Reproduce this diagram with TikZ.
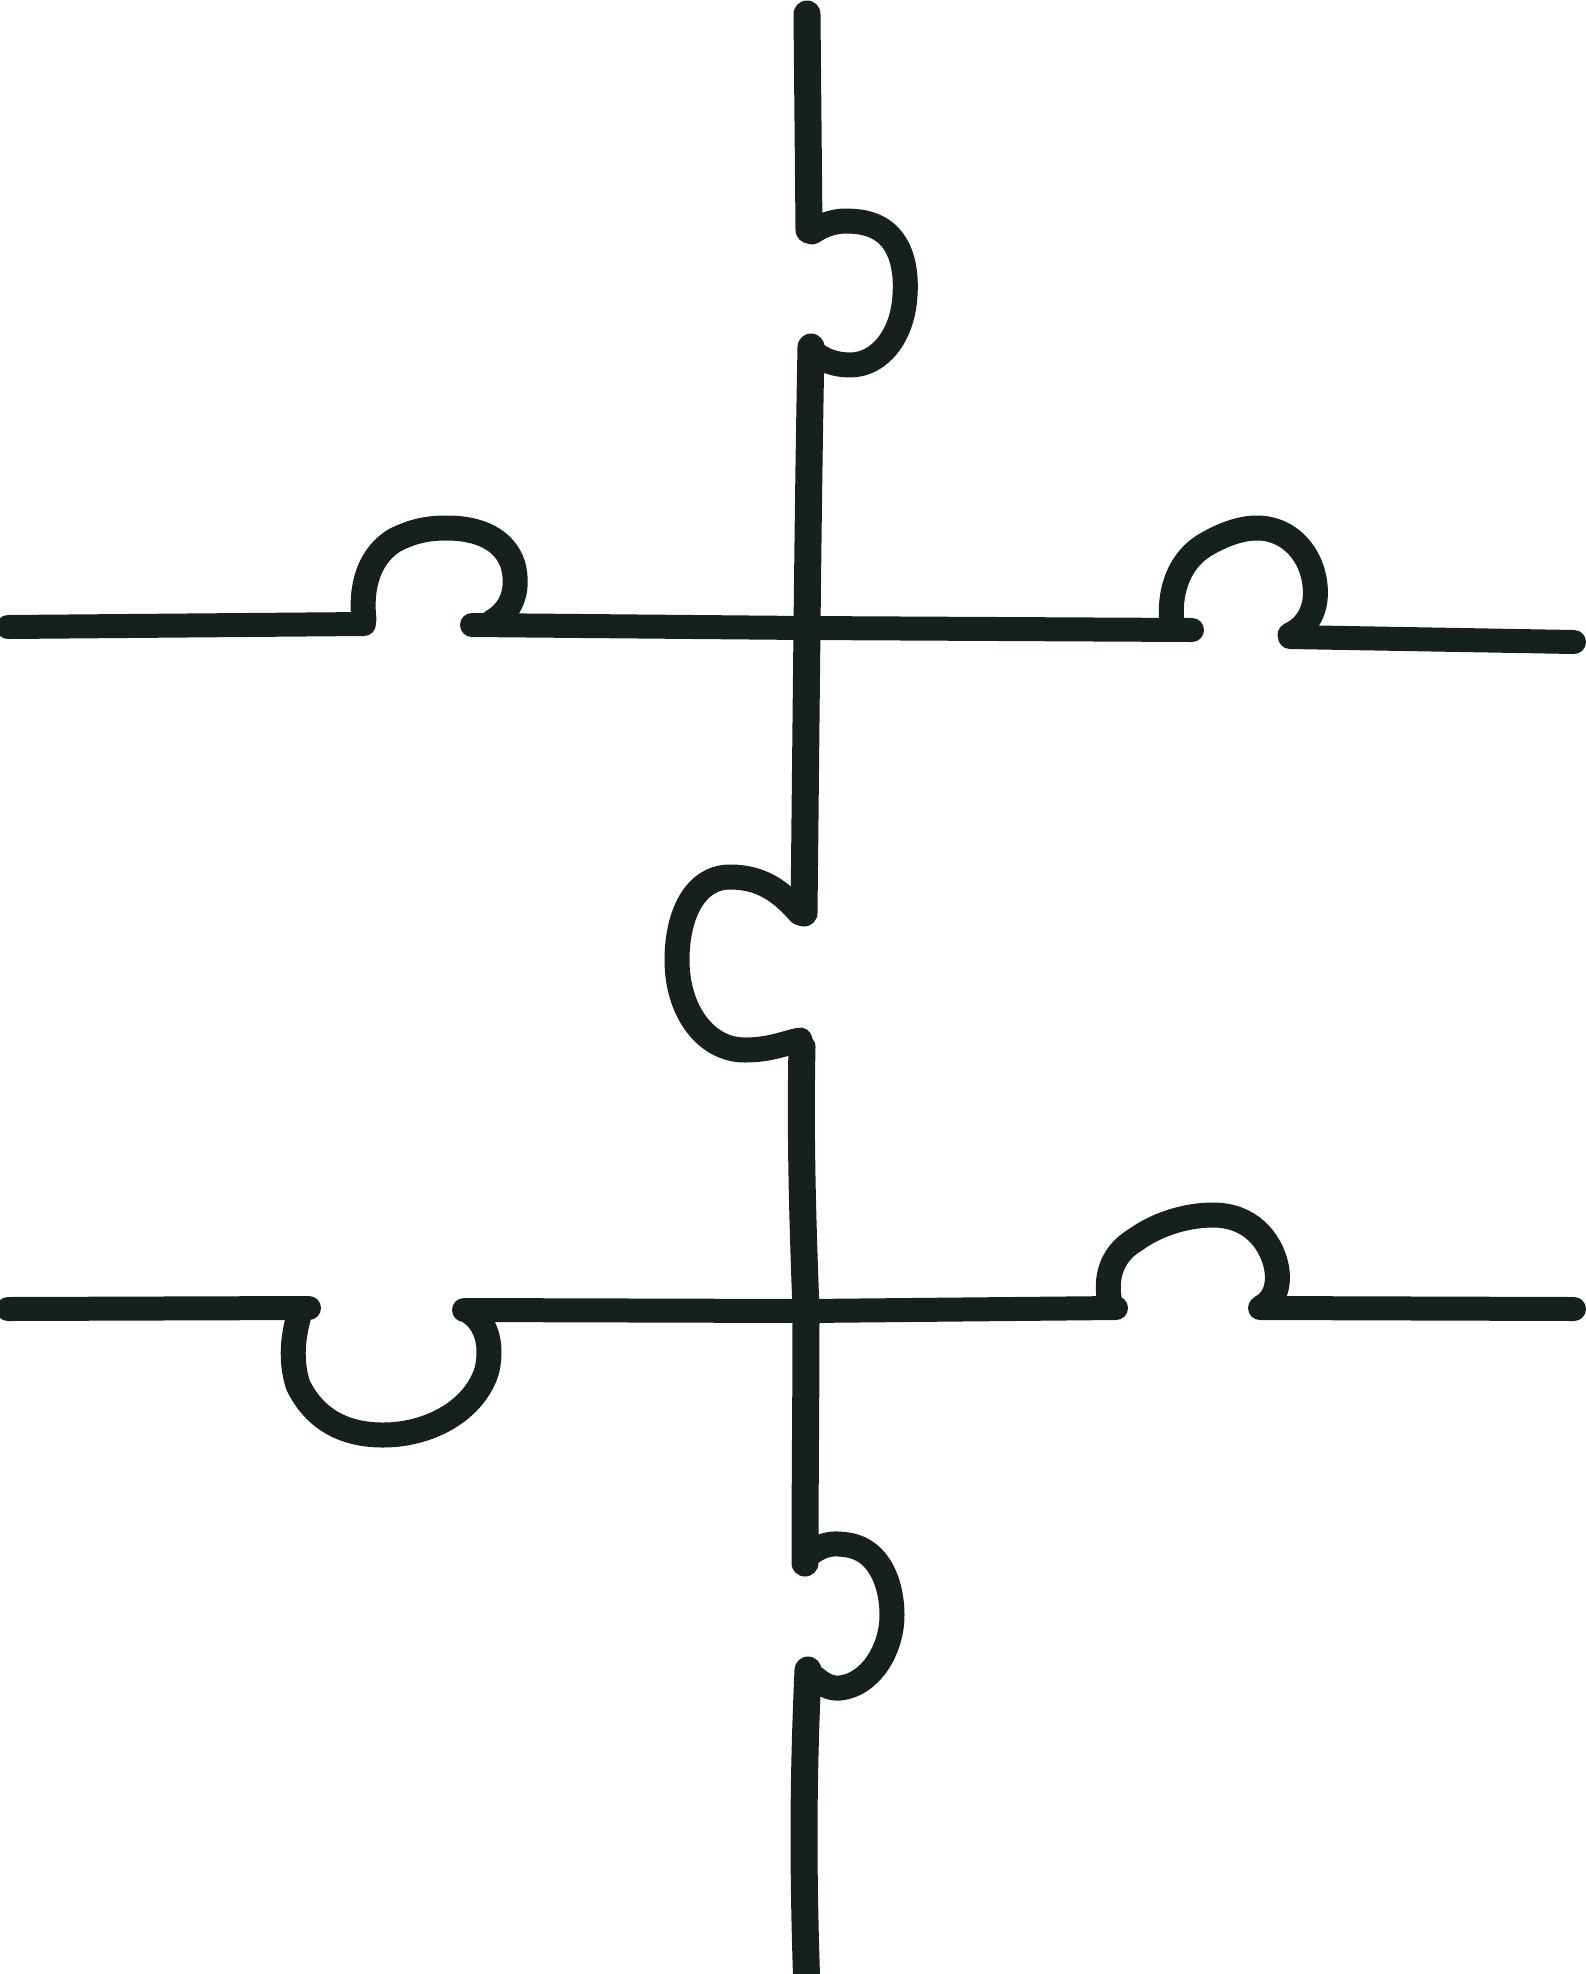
\documentclass[tikz,border=0pt]{standalone}
\definecolor{ink}{RGB}{22,32,30}
\begin{document}
\begin{tikzpicture}[x=1pt,y=-1pt,
  cut/.style={draw=ink,line width=27pt,line cap=round,line join=round},
  hcut/.style={draw=ink,line width=24pt,line cap=round,line join=round},
  knob/.style={draw=ink,line width=25pt,line cap=round,line join=round}]
\useasboundingbox[fill=white] (0,0) rectangle (1586,1974);
% vertical cut
\draw[cut] (807,14) -- (809,230);
\draw[knob] (812,232) .. controls (830,220) and (845,220) .. (860,222)
  .. controls (900,228) and (907,265) .. (905,295)
  .. controls (903,335) and (880,365) .. (850,365)
  .. controls (835,365) and (822,360) .. (813,352);
\draw[cut] (811,347) .. controls (809,450) and (808,540) .. (807,628)
  .. controls (806,720) and (805,820) .. (804,913);
\draw[knob] (800,913) .. controls (780,890) and (760,877) .. (730,877)
  .. controls (695,877) and (677,915) .. (677,960)
  .. controls (677,1010) and (705,1050) .. (745,1050)
  .. controls (770,1050) and (785,1043) .. (800,1040);
\draw[cut] (802,1047) .. controls (800,1140) and (803,1230) .. (806,1310)
  .. controls (806,1400) and (805,1480) .. (805,1563);
\draw[knob] (812,1552) .. controls (825,1543) and (835,1543) .. (848,1545)
  .. controls (880,1550) and (892,1585) .. (892,1615)
  .. controls (892,1650) and (870,1685) .. (840,1688)
  .. controls (830,1689) and (822,1684) .. (815,1678);
\draw[cut] (808,1670) .. controls (804,1760) and (802,1850) .. (807,1990);
% upper horizontal cut
\draw[hcut] (8,627) -- (364,624);
\draw[knob] (364,620) .. controls (360,585) and (370,555) .. (395,540)
  .. controls (415,530) and (430,528) .. (447,528)
  .. controls (480,528) and (505,540) .. (513,565)
  .. controls (520,592) and (510,612) .. (492,622);
\draw[hcut] (472,625) -- (806,628) -- (1192,630);
\draw[knob] (1172,626) .. controls (1168,590) and (1180,560) .. (1205,545)
  .. controls (1222,535) and (1240,528) .. (1257,528)
  .. controls (1290,528) and (1312,555) .. (1315,585)
  .. controls (1318,612) and (1305,628) .. (1290,635);
\draw[hcut] (1290,637) -- (1574,642);
% lower horizontal cut
\draw[hcut] (8,1309) -- (309,1308);
\draw[knob] (300,1312) .. controls (293,1335) and (290,1360) .. (298,1385)
  .. controls (315,1420) and (345,1435) .. (383,1435)
  .. controls (430,1435) and (475,1410) .. (487,1370)
  .. controls (493,1342) and (485,1322) .. (470,1312);
\draw[hcut] (464,1310) -- (806,1311) -- (1116,1308);
\draw[knob] (1110,1303) .. controls (1105,1280) and (1110,1255) .. (1135,1240)
  .. controls (1160,1222) and (1190,1215) .. (1213,1215)
  .. controls (1250,1215) and (1270,1240) .. (1276,1265)
  .. controls (1281,1288) and (1272,1302) .. (1262,1307);
\draw[hcut] (1260,1308) -- (1574,1309);
\end{tikzpicture}
\end{document}
